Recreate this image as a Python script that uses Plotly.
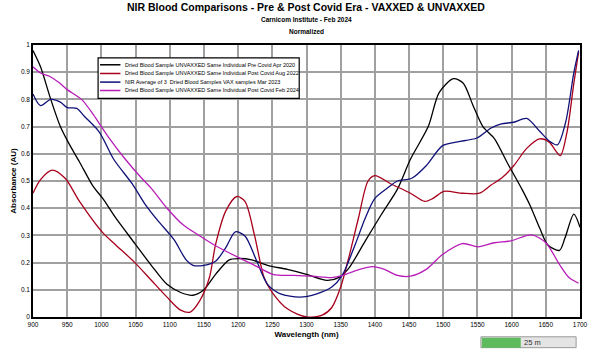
import plotly.graph_objects as go

# ---- data ----
black_x = [900, 911, 926, 940, 952, 968, 988, 1002, 1021, 1049, 1073, 1096, 1116, 1134, 1149, 1167, 1187, 1201, 1220, 1243, 1272, 1300, 1330, 1347, 1362, 1386, 1409, 1433, 1452, 1478, 1494, 1515, 1529, 1544, 1558, 1575, 1593, 1615, 1627, 1641, 1653, 1670, 1678, 1691, 1700]
black_y = [0.98, 0.92, 0.8, 0.7, 0.64, 0.57, 0.48, 0.436, 0.364, 0.27, 0.19, 0.12, 0.09, 0.08, 0.098, 0.157, 0.21, 0.215, 0.21, 0.19, 0.175, 0.157, 0.135, 0.145, 0.18, 0.28, 0.375, 0.47, 0.58, 0.70, 0.825, 0.876, 0.86, 0.775, 0.70, 0.655, 0.57, 0.47, 0.41, 0.327, 0.265, 0.245, 0.29, 0.378, 0.33]

red_x = [900, 911, 928, 947, 968, 1002, 1021, 1049, 1073, 1096, 1116, 1130, 1144, 1158, 1167, 1182, 1198, 1210, 1224, 1238, 1250, 1272, 1300, 1323, 1337, 1350, 1362, 1376, 1390, 1400, 1423, 1452, 1473, 1485, 1501, 1528, 1553, 1570, 1585, 1603, 1622, 1641, 1655, 1671, 1681, 1691, 1698]
red_y = [0.455, 0.505, 0.54, 0.51, 0.425, 0.31, 0.265, 0.2, 0.135, 0.073, 0.025, 0.018, 0.06, 0.145, 0.266, 0.39, 0.443, 0.425, 0.30, 0.145, 0.09, 0.03, 0.0, 0.007, 0.035, 0.11, 0.22, 0.364, 0.5, 0.52, 0.49, 0.455, 0.425, 0.436, 0.462, 0.455, 0.455, 0.485, 0.51, 0.556, 0.62, 0.655, 0.643, 0.593, 0.68, 0.86, 0.975]

blue_x = [900, 911, 926, 940, 950, 964, 975, 997, 1018, 1045, 1063, 1082, 1106, 1124, 1134, 1150, 1167, 1182, 1196, 1210, 1227, 1243, 1262, 1290, 1315, 1337, 1352, 1371, 1386, 1400, 1418, 1433, 1454, 1475, 1499, 1521, 1549, 1570, 1585, 1603, 1622, 1641, 1655, 1667, 1679, 1691, 1698]
blue_y = [0.82, 0.777, 0.8, 0.79, 0.77, 0.767, 0.738, 0.68, 0.58, 0.49, 0.418, 0.356, 0.285, 0.21, 0.19, 0.19, 0.205, 0.255, 0.313, 0.298, 0.207, 0.12, 0.085, 0.073, 0.085, 0.11, 0.152, 0.265, 0.364, 0.436, 0.473, 0.5, 0.51, 0.556, 0.63, 0.644, 0.658, 0.695, 0.71, 0.716, 0.73, 0.683, 0.647, 0.633, 0.716, 0.898, 0.98]

mag_x = [900, 911, 924, 938, 950, 971, 988, 1009, 1035, 1059, 1073, 1096, 1120, 1144, 1167, 1201, 1224, 1252, 1281, 1309, 1337, 1352, 1371, 1397, 1414, 1433, 1452, 1475, 1499, 1528, 1551, 1575, 1599, 1629, 1650, 1670, 1684, 1698]
mag_y = [0.92, 0.897, 0.885, 0.862, 0.836, 0.8, 0.745, 0.666, 0.58, 0.51, 0.473, 0.4, 0.338, 0.298, 0.262, 0.218, 0.19, 0.156, 0.153, 0.15, 0.145, 0.152, 0.17, 0.185, 0.175, 0.153, 0.15, 0.175, 0.23, 0.27, 0.258, 0.273, 0.28, 0.302, 0.273, 0.193, 0.145, 0.124]

names = [
    "Dried Blood Sample UNVAXXED Same Individual Pre Covid Apr 2020",
    "Dried Blood Sample UNVAXXED Same Individual Post Covid Aug 2022",
    "NIR Average of 3&nbsp; Dried Blood Samples VAX samples Mar 2023",
    "Dried Blood Sample UNVAXXED Same Individual Post Covid Feb 2024",
]
colors = ["#000000", "#A8001C", "#10107A", "#B81CB8"]

x_ticks = list(range(900, 1701, 50))
y_ticks = [0, 0.1, 0.2, 0.3, 0.4, 0.5, 0.6, 0.7, 0.8, 0.9, 1]
y_tick_text = ["0", "0.1", "0.2", "0.3", "0.4", "0.5", "0.6", "0.7", "0.8", "0.9", "1"]

FONT = "Liberation Sans, Arial, sans-serif"

# plot area in pixels: x 25..588, y 45..320
L, R, T, B = 25, 588, 45, 320


def px_x(p):
    return (p - L) / float(R - L)


def px_y(p):
    return (B - p) / float(B - T)


fig = go.Figure()
for xs, ys, nm, c in zip([black_x, red_x, blue_x, mag_x], [black_y, red_y, blue_y, mag_y], names, colors):
    fig.add_trace(go.Scatter(x=xs, y=ys, name=nm, mode="lines", showlegend=False,
                             line=dict(color=c, width=1.3, shape="spline", smoothing=0.8)))

fig.update_layout(
    width=600, height=350,
    margin=dict(l=L, r=600 - R, t=T, b=350 - B),
    paper_bgcolor="white", plot_bgcolor="white",
    font=dict(family=FONT, color="black", size=7),
    showlegend=False,
    xaxis=dict(range=[900, 1700], tickvals=x_ticks, ticks="", tickfont=dict(size=6.5),
               showgrid=True, gridcolor="#A0A0A0", gridwidth=1.5,
               showline=True, linecolor="black", linewidth=1.5, mirror=True,
               zeroline=False,
               title=dict(text="<b>Wavelength (nm)</b>", font=dict(size=8), standoff=5)),
    yaxis=dict(range=[0, 1], tickvals=y_ticks, ticktext=y_tick_text, ticks="", tickfont=dict(size=6.5),
               showgrid=True, gridcolor="#A0A0A0", gridwidth=1.5,
               showline=True, linecolor="black", linewidth=1.5, mirror=True,
               zeroline=False,
               title=dict(text="<b>Absorbance (AU)</b>", font=dict(size=8), standoff=3)),
)

# titles
fig.add_annotation(text="<b>NIR Blood Comparisons - Pre & Post Covid Era - VAXXED & UNVAXXED</b>",
                   xref="paper", yref="paper", x=px_x(306), y=px_y(7), showarrow=False,
                   font=dict(size=10.5, family=FONT), yanchor="middle", xanchor="center")
fig.add_annotation(text="<b>Carnicom Institute - Feb 2024</b>",
                   xref="paper", yref="paper", x=px_x(306), y=px_y(19.5), showarrow=False,
                   font=dict(size=6.5, family=FONT), yanchor="middle", xanchor="center")
fig.add_annotation(text="<b>Normalized</b>",
                   xref="paper", yref="paper", x=px_x(306), y=px_y(31), showarrow=False,
                   font=dict(size=6.5, family=FONT), yanchor="middle", xanchor="center")

# legend box (compact, as in the reference)
fig.add_shape(type="rect", xref="paper", yref="paper",
              x0=px_x(92), x1=px_x(299), y0=px_y(99), y1=px_y(58),
              line=dict(color="black", width=1.2), fillcolor="white", layer="above")
leg_rows = [65, 73.8, 82.5, 91]
for nm, c, ry in zip(names, colors, leg_rows):
    fig.add_shape(type="line", xref="paper", yref="paper",
                  x0=px_x(94), x1=px_x(115), y0=px_y(ry), y1=px_y(ry),
                  line=dict(color=c, width=1.5), layer="above")
    fig.add_annotation(text=nm, xref="paper", yref="paper", x=px_x(117.5), y=px_y(ry),
                       xanchor="left", yanchor="middle", showarrow=False,
                       font=dict(size=5.5, family=FONT, color="black"))

# progress bar overlay seen in the bottom-right of the reference
fig.add_shape(type="rect", xref="paper", yref="paper", x0=px_x(486), x1=px_x(584), y0=px_y(351), y1=px_y(340),
              line=dict(color="#9A9A9A", width=1), fillcolor="#E4E4E4", layer="above")
fig.add_shape(type="rect", xref="paper", yref="paper", x0=px_x(487), x1=px_x(527), y0=px_y(351), y1=px_y(341),
              line=dict(width=0), fillcolor="#5DBB5D", layer="above")
fig.add_annotation(text="25 m", xref="paper", yref="paper", x=px_x(528), y=px_y(345.5), xanchor="left",
                   yanchor="middle", showarrow=False, font=dict(size=7.5, family=FONT, color="#333333"))

fig.write_html("out.html")
